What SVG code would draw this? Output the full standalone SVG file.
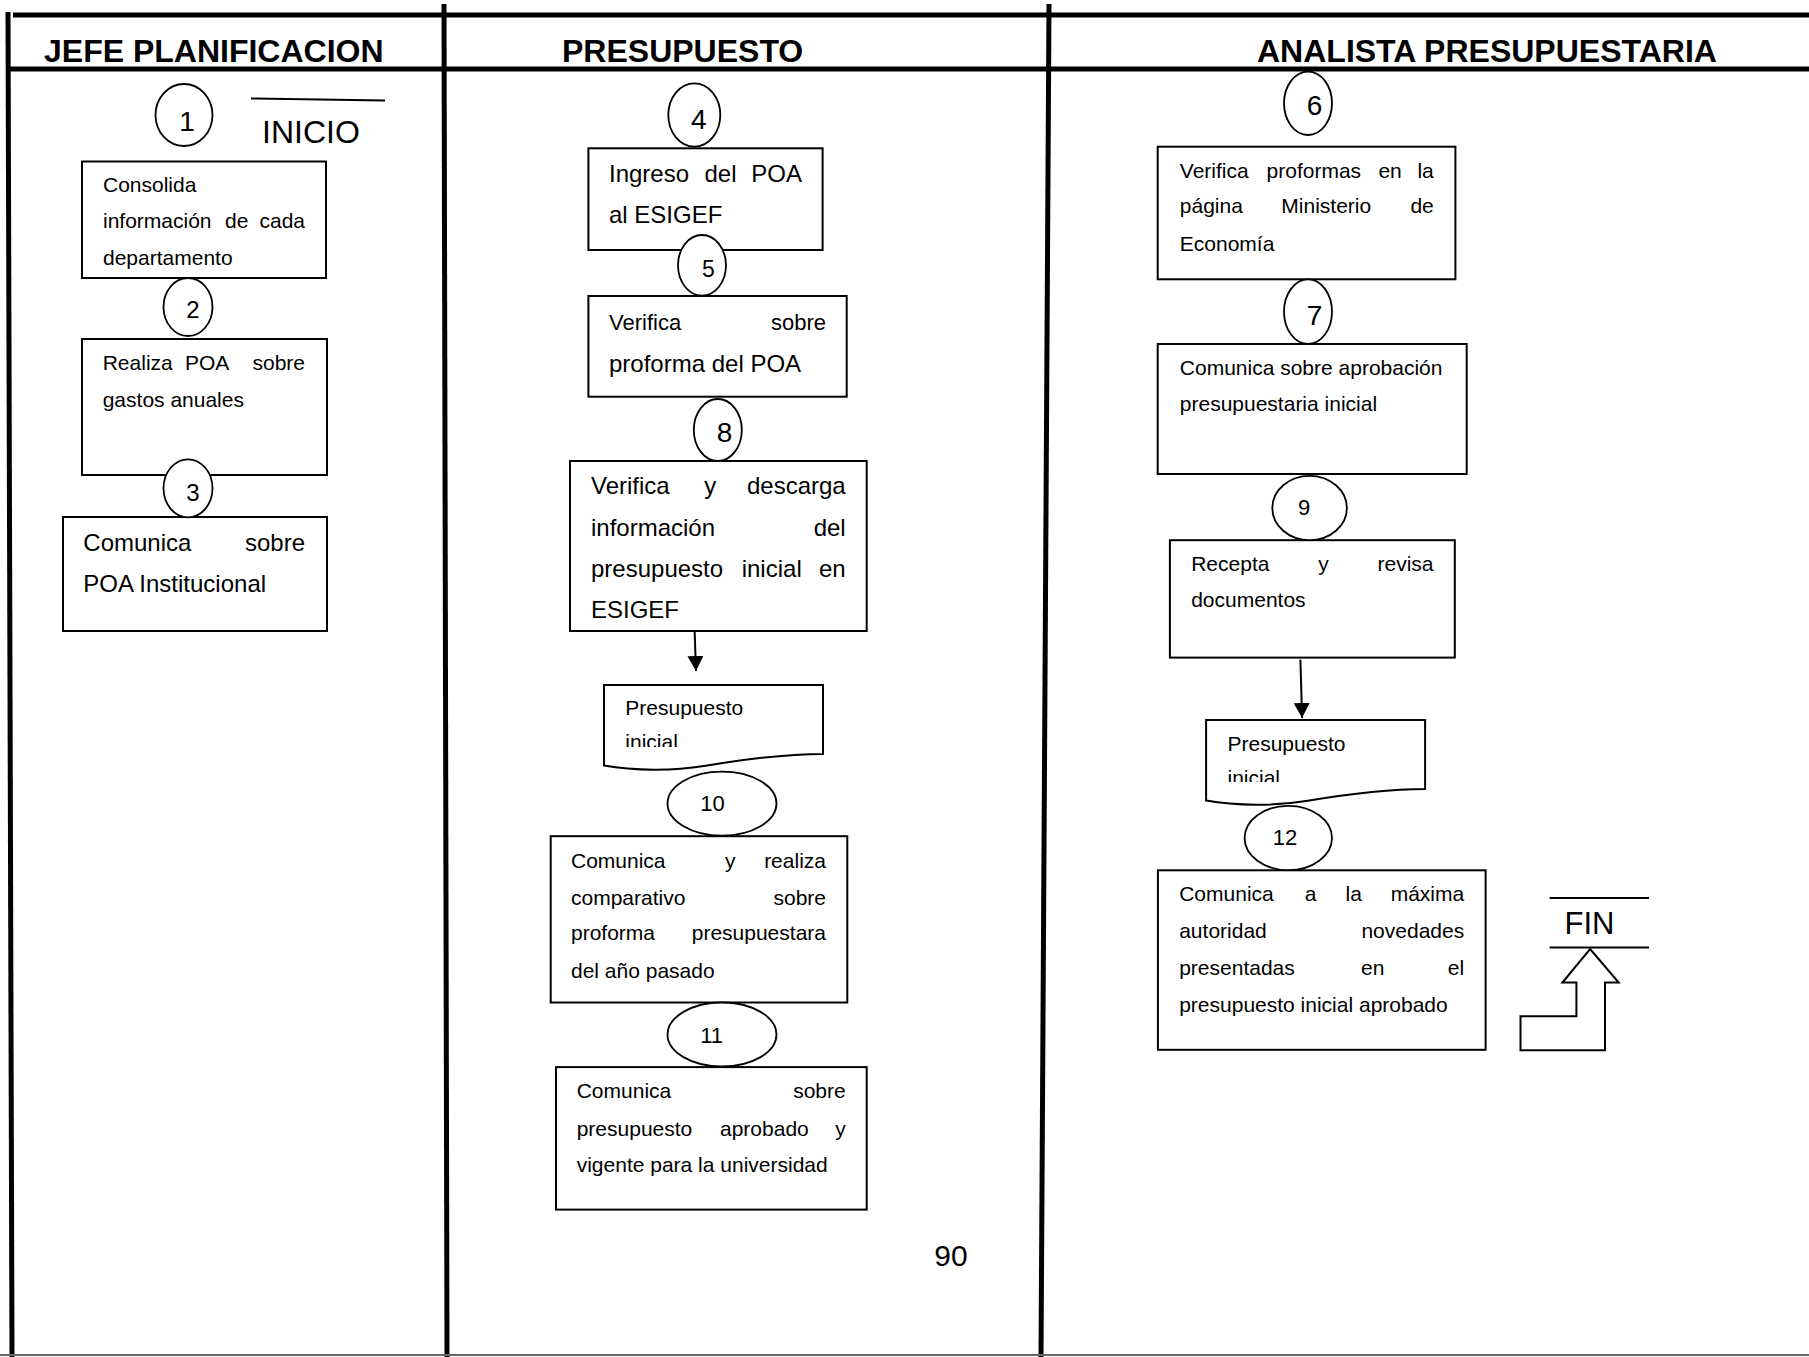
<svg xmlns="http://www.w3.org/2000/svg" width="1809" height="1357" viewBox="0 0 1809 1357">
  <style>
    text { font-family: "Liberation Sans", Arial, sans-serif; fill: #000; }
    .h { font-size: 32px; font-weight: bold; }
    .t21 { font-size: 21px; }
    .t22 { font-size: 22px; }
    .t24 { font-size: 24px; }
    .num { font-size: 28px; text-anchor: middle; }
    .nums { font-size: 22px; text-anchor: middle; }
    .e { text-anchor: end; }
    .lane { stroke: #000; stroke-width: 5; fill: none; }
    .box { fill: #fff; stroke: #000; stroke-width: 2; }
    .oval { fill: #fff; stroke: #000; stroke-width: 1.8; }
    .thin { stroke: #000; stroke-width: 2; fill: none; }
    .flow { stroke: #000; stroke-width: 2; fill: none; }
  </style>
  <defs>
    <marker id="arrowhead" markerUnits="userSpaceOnUse" markerWidth="16" markerHeight="16" refX="15" refY="8" orient="auto">
      <path d="M0,0 L15,8 L0,16 Z" fill="#000"/>
    </marker>
    <!-- document symbol with wavy bottom edge -->
    <path id="doc" d="M0,0 H219 V69 C180,69 130,76 100,81 C70,86 30,86 0,80.5 Z"/>
    <clipPath id="clipDoc1" clipPathUnits="userSpaceOnUse"><rect x="604" y="685" width="219" height="62"/></clipPath>
    <clipPath id="clipDoc2" clipPathUnits="userSpaceOnUse"><rect x="1206" y="720" width="219" height="62"/></clipPath>
  </defs>

  <rect width="1809" height="1357" fill="#fff"/>

  <!-- swimlane frame -->
  <g id="lanes">
    <line class="lane" x1="13" y1="15" x2="1809" y2="15"/>
    <line class="lane" x1="9" y1="69" x2="1809" y2="69"/>
    <line class="lane" x1="8" y1="12" x2="12" y2="1357"/>
    <line class="lane" x1="444" y1="4" x2="447" y2="1357"/>
    <line class="lane" x1="1049" y1="4" x2="1041" y2="1357"/>
    <line x1="0" y1="1355" x2="1809" y2="1355" stroke="#666" stroke-width="2"/>
    <text class="h" x="44" y="62">JEFE PLANIFICACION</text>
    <text class="h" x="562" y="62">PRESUPUESTO</text>
    <text class="h" x="1257" y="62">ANALISTA PRESUPUESTARIA</text>
  </g>

  <!-- connectors -->
  <g id="connectors">
    <line class="flow" x1="694" y1="613" x2="696" y2="671" marker-end="url(#arrowhead)"/>
    <line class="flow" x1="1300.4" y1="659.6" x2="1302.1" y2="718" marker-end="url(#arrowhead)"/>
  </g>

  <!-- JEFE PLANIFICACION -->
  <g id="inicio">
    <line class="thin" x1="251" y1="98.5" x2="385" y2="100.5"/>
    <text x="262" y="143" font-size="32">INICIO</text>
  </g>
  <g id="paso-consolida">
    <rect class="box" x="82" y="161.5" width="244" height="116.5"/>
    <text class="t21" x="103" y="191.7">Consolida</text>
    <text class="t21" y="227.7"><tspan x="103">información</tspan><tspan x="225">de</tspan></text>
    <text class="t21 e" x="305" y="227.7">cada</text>
    <text class="t21" x="103" y="265">departamento</text>
  </g>
  <g id="paso-realiza">
    <rect class="box" x="82" y="339" width="245" height="136"/>
    <text class="t21" y="370"><tspan x="102.7">Realiza</tspan><tspan x="185">POA</tspan></text>
    <text class="t21 e" x="305" y="370">sobre</text>
    <text class="t21" x="102.7" y="406.7">gastos anuales</text>
  </g>
  <g id="paso-comunica-poa">
    <rect class="box" x="63" y="517" width="264" height="114"/>
    <text class="t24" x="83.3" y="550.7">Comunica</text>
    <text class="t24 e" x="305" y="550.7">sobre</text>
    <text class="t24" x="83.3" y="591.7">POA Institucional</text>
  </g>
  <g id="num-1">
    <ellipse class="oval" cx="184" cy="115" rx="28.5" ry="31"/>
    <text class="num" x="187" y="131">1</text>
  </g>
  <g id="num-2">
    <ellipse class="oval" cx="188" cy="307" rx="24.5" ry="29"/>
    <text class="num" font-size="24" x="193" y="318" style="font-size:24px">2</text>
  </g>
  <g id="num-3">
    <ellipse class="oval" cx="188" cy="488.3" rx="24.5" ry="29"/>
    <text class="num" x="193" y="501" style="font-size:24px">3</text>
  </g>

  <!-- PRESUPUESTO -->
  <g id="paso-ingreso">
    <rect class="box" x="588.4" y="148.3" width="234.2" height="101.7"/>
    <text class="t24" y="181.7"><tspan x="609">Ingreso</tspan><tspan x="704.5">del</tspan></text>
    <text class="t24 e" x="802" y="181.7">POA</text>
    <text class="t24" x="609" y="222.7">al ESIGEF</text>
  </g>
  <g id="paso-verifica-proforma">
    <rect class="box" x="588.4" y="296" width="258.3" height="100.7"/>
    <text class="t22" x="609" y="330">Verifica</text>
    <text class="t22 e" x="826" y="330">sobre</text>
    <text class="t24" x="609" y="371.7">proforma del POA</text>
  </g>
  <g id="paso-descarga">
    <rect class="box" x="570" y="461" width="296.7" height="170"/>
    <text class="t24" y="494"><tspan x="591">Verifica</tspan><tspan x="704.3">y</tspan></text>
    <text class="t24 e" x="845.7" y="494">descarga</text>
    <text class="t24" x="591" y="536">información</text>
    <text class="t24 e" x="845.7" y="536">del</text>
    <text class="t24" y="576.7"><tspan x="591">presupuesto</tspan><tspan x="741.7">inicial</tspan></text>
    <text class="t24 e" x="845.7" y="576.7">en</text>
    <text class="t24" x="591" y="618.3">ESIGEF</text>
  </g>
  <g id="doc-presupuesto-1">
    <use href="#doc" x="604" y="685" class="box"/>
    <g clip-path="url(#clipDoc1)">
      <text class="t21" x="625.3" y="715">Presupuesto</text>
      <text class="t21" x="625.3" y="749">inicial</text>
    </g>
  </g>
  <g id="paso-comparativo">
    <rect class="box" x="550.7" y="836.2" width="296.6" height="166.3"/>
    <text class="t21" y="867.5"><tspan x="571">Comunica</tspan><tspan x="725">y</tspan></text>
    <text class="t21 e" x="826" y="867.5">realiza</text>
    <text class="t21" x="571" y="904.8">comparativo</text>
    <text class="t21 e" x="826" y="904.8">sobre</text>
    <text class="t21" x="571" y="940.3">proforma</text>
    <text class="t21 e" x="826" y="940.3">presupuestara</text>
    <text class="t21" x="571" y="977.6">del año pasado</text>
  </g>
  <g id="paso-aprobado">
    <rect class="box" x="556" y="1067.1" width="310.7" height="142.5"/>
    <text class="t21" x="576.7" y="1098.4">Comunica</text>
    <text class="t21 e" x="845.7" y="1098.4">sobre</text>
    <text class="t21" y="1135.7"><tspan x="576.7">presupuesto</tspan><tspan x="720">aprobado</tspan></text>
    <text class="t21 e" x="845.7" y="1135.7">y</text>
    <text class="t21" x="576.7" y="1172.3">vigente para la universidad</text>
  </g>
  <g id="num-4">
    <ellipse class="oval" cx="694.3" cy="115" rx="26" ry="31.7"/>
    <text class="num" x="698.7" y="129.3">4</text>
  </g>
  <g id="num-5">
    <ellipse class="oval" cx="702" cy="265.3" rx="24" ry="30.3"/>
    <text class="num" x="708.4" y="276.7" style="font-size:23px">5</text>
  </g>
  <g id="num-8">
    <ellipse class="oval" cx="717.8" cy="430" rx="24" ry="31"/>
    <text class="num" x="724.5" y="441.7">8</text>
  </g>
  <g id="num-10">
    <ellipse class="oval" cx="722" cy="803.6" rx="54.5" ry="32"/>
    <text class="nums" x="712.5" y="811">10</text>
  </g>
  <g id="num-11">
    <ellipse class="oval" cx="722" cy="1034.5" rx="54.5" ry="32"/>
    <text class="nums" x="711.7" y="1042.6">11</text>
  </g>
  <text id="pagina" x="934.3" y="1266" font-size="30">90</text>

  <!-- ANALISTA PRESUPUESTARIA -->
  <g id="paso-verifica-ministerio">
    <rect class="box" x="1157.7" y="146.7" width="297.7" height="132.6"/>
    <text class="t21" y="178.3"><tspan x="1179.8">Verifica</tspan><tspan x="1266.6">proformas</tspan><tspan x="1378.4">en</tspan></text>
    <text class="t21 e" x="1433.8" y="178.3">la</text>
    <text class="t21" y="213.3"><tspan x="1179.8">página</tspan><tspan x="1281.3">Ministerio</tspan></text>
    <text class="t21 e" x="1433.8" y="213.3">de</text>
    <text class="t21" x="1179.8" y="250.7">Economía</text>
  </g>
  <g id="paso-aprobacion">
    <rect class="box" x="1157.7" y="344" width="309" height="130"/>
    <text class="t21" x="1179.8" y="375">Comunica sobre aprobación</text>
    <text class="t21" x="1179.8" y="411">presupuestaria inicial</text>
  </g>
  <g id="paso-recepta">
    <rect class="box" x="1169.9" y="540.2" width="284.9" height="117.4"/>
    <text class="t21" y="570.6"><tspan x="1191.2">Recepta</tspan><tspan x="1318.3">y</tspan></text>
    <text class="t21 e" x="1433.5" y="570.6">revisa</text>
    <text class="t21" x="1191.2" y="607.4">documentos</text>
  </g>
  <g id="doc-presupuesto-2">
    <use href="#doc" x="1206.1" y="720.1" class="box"/>
    <g clip-path="url(#clipDoc2)">
      <text class="t21" x="1227.5" y="751.3">Presupuesto</text>
      <text class="t21" x="1227.5" y="785">inicial</text>
    </g>
  </g>
  <g id="paso-maxima-autoridad">
    <rect class="box" x="1157.9" y="870.3" width="327.7" height="179.5"/>
    <text class="t21" y="900.8"><tspan x="1179.2">Comunica</tspan><tspan x="1304.7">a</tspan><tspan x="1345.6">la</tspan></text>
    <text class="t21 e" x="1464.2" y="900.8">máxima</text>
    <text class="t21" x="1179.2" y="937.5">autoridad</text>
    <text class="t21 e" x="1464.2" y="937.5">novedades</text>
    <text class="t21" y="974.7"><tspan x="1179.2">presentadas</tspan><tspan x="1361">en</tspan></text>
    <text class="t21 e" x="1464.2" y="974.7">el</text>
    <text class="t21" x="1179.2" y="1011.5">presupuesto inicial aprobado</text>
  </g>
  <g id="num-6">
    <ellipse class="oval" cx="1308" cy="103.3" rx="24" ry="31.7"/>
    <text class="num" x="1314.6" y="115">6</text>
  </g>
  <g id="num-7">
    <ellipse class="oval" cx="1308" cy="311.7" rx="24" ry="32.3"/>
    <text class="num" x="1314.6" y="325">7</text>
  </g>
  <g id="num-9">
    <ellipse class="oval" cx="1309.6" cy="508" rx="37.3" ry="32.2"/>
    <text class="nums" x="1304.2" y="515.2">9</text>
  </g>
  <g id="num-12">
    <ellipse class="oval" cx="1288.3" cy="838" rx="43.7" ry="32.2"/>
    <text class="nums" x="1285" y="845.4">12</text>
  </g>
  <g id="fin">
    <line class="thin" x1="1549.6" y1="898" x2="1649" y2="898"/>
    <line class="thin" x1="1549.6" y1="947.4" x2="1649" y2="947.4"/>
    <text x="1564.5" y="934.4" font-size="31">FIN</text>
    <polygon class="box" points="1590.1,949 1618.7,982.6 1605,982.6 1605,1050.2 1520.5,1050.2 1520.5,1016.2 1576.4,1016.2 1576.4,982.6 1562.4,982.6"/>
  </g>
</svg>
